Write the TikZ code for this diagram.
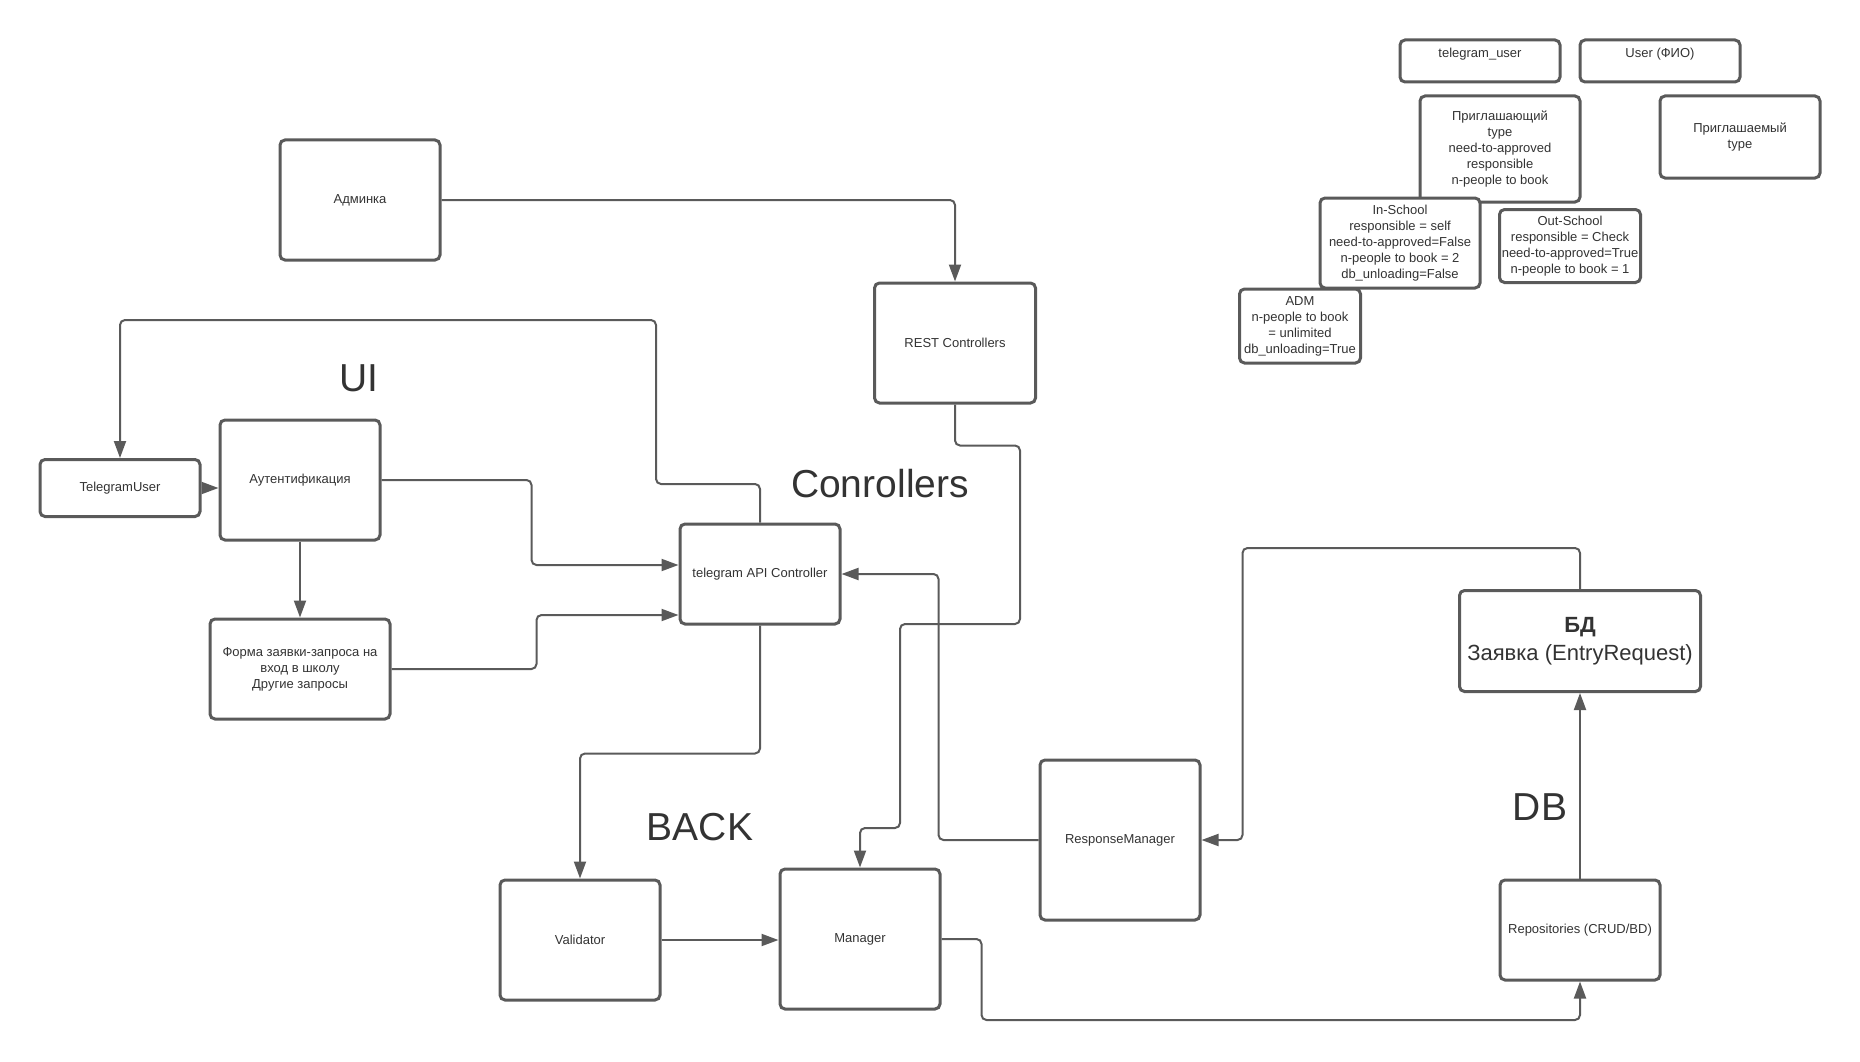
\documentclass[tikz,border=0pt]{standalone}
\usepackage{fontspec}
\setmainfont{Liberation Sans}
\usepackage{xcolor}
\usepackage{tikz}
\usetikzlibrary{arrows.meta,positioning}
\definecolor{linegray}{HTML}{5A5A5A}
\definecolor{textgray}{HTML}{333333}

\begin{document}
\begin{tikzpicture}[
  x=1pt, y=-1pt,
  box/.style ={draw=linegray, line width=3pt, fill=white, rounded corners=5pt, minimum width=160pt, minimum height=120pt, align=center, text=textgray, font=\fontsize{13}{16}\selectfont},
  note/.style={box, inner xsep=2pt, inner ysep=2pt, minimum height=0pt},
  arr/.style ={-{Triangle[length=17pt, width=12pt]}, line width=2pt, linegray, rounded corners=5pt},
  lbl/.style ={text=textgray, anchor=base, font=\fontsize{39}{46}\selectfont},
]
  \useasboundingbox (0,0) rectangle (1860,1062);

  \node[box] (adm)                                      at (360,200)  {Админка};
  \node[box, minimum width=161pt] (rest)                at (955,343)  {REST Controllers};
  \node[box] (auth)                                     at (300,480)  {Аутентификация};
  \node[box, minimum height=57pt] (tguser)              at (120,488)  {TelegramUser};
  \node[box, minimum width=180pt, minimum height=100pt] (form) at (300,669) {Форма заявки-запроса на\\вход в школу\\Другие запросы};
  \node[box, minimum height=100pt] (api)                at (760,574)  {telegram API Controller};
  \node[box] (valid)                                    at (580,940)  {Validator};
  \node[box, minimum height=140pt] (mgr)                at (860,939)  {Manager};
  \node[box, minimum height=160pt] (resp)               at (1120,840) {ResponseManager};
  \node[box, minimum width=241pt, minimum height=101pt, font=\fontsize{22}{28}\selectfont] (bd) at (1580,641) {\textbf{БД}\\Заявка (EntryRequest)};
  \node[box, minimum height=100pt] (repo)               at (1580,930) {Repositories (CRUD/BD)};

  \node[note, minimum width=160pt, minimum height=42pt] (tgname)   at (1480,61)  {telegram\_user\\~};
  \node[note, minimum width=160pt, minimum height=42pt] (fio)      at (1660,61)  {User (ФИО)\\~};
  \node[note, minimum width=160pt, minimum height=106pt] (inviter) at (1500,149) {Приглашающий\\type\\need-to-approved\\responsible\\n-people to book};
  \node[note, minimum width=160pt, minimum height=82pt] (invitee)  at (1740,137) {Приглашаемый\\type};
  \node[note, minimum width=160pt, minimum height=90pt] (inschool) at (1400,243) {In-School\\responsible = self\\need-to-approved=False\\n-people to book = 2\\db\_unloading=False};
  \node[note, minimum width=141pt, minimum height=73pt, inner xsep=0pt] (outschool) at (1570,246) {Out-School\\responsible = Check\\need-to-approved=True\\n-people to book = 1};
  \node[note, minimum width=121pt, minimum height=74pt, inner xsep=0pt] (admrole)   at (1300,326) {ADM\\n-people to book\\= unlimited\\db\_unloading=True};

  \node[lbl] (ui)   at (359,391)  {UI};
  \node[lbl] (ctrl) at (880,497)  {Conrollers};
  \node[lbl] (back) at (700,840)  {BACK};
  \node[lbl] (db)   at (1540,820) {DB};

  \draw[arr] (adm.east)    -| (rest.north);
  \draw[arr] (api.north)   |- (656,484) -- (656,320) -| (tguser.north);
  \draw[arr] (tguser.east) -- (tguser.east -| auth.west);
  \draw[arr] (auth.east)   -- ++(150,0) |- ([yshift=9pt]api.west);
  \draw[arr] (auth)        -- (form);
  \draw[arr] (form.east)   -- ++(145,0) |- ([yshift=-41pt]api.west);
  \draw[arr] (rest.south)  -- ++(0,41) -| (1020,624) -| (900,828) -| (mgr.north);
  \draw[arr] (resp.west)   -- ++(-100,0) |- (api.east);
  \draw[arr] (api.south)   -- ++(0,128) -| (valid.north);
  \draw[arr] (valid.east)  -- (valid.east -| mgr.west);
  \draw[arr] (mgr.east)    -- ++(40,0) -- ++(0,81) -| (repo.south);
  \draw[arr] (repo)        -- (bd);
  \draw[arr] (bd.north)    -- ++(0,-41) -| ([xshift=41pt]resp.east) -- (resp.east);
\end{tikzpicture}
\end{document}
